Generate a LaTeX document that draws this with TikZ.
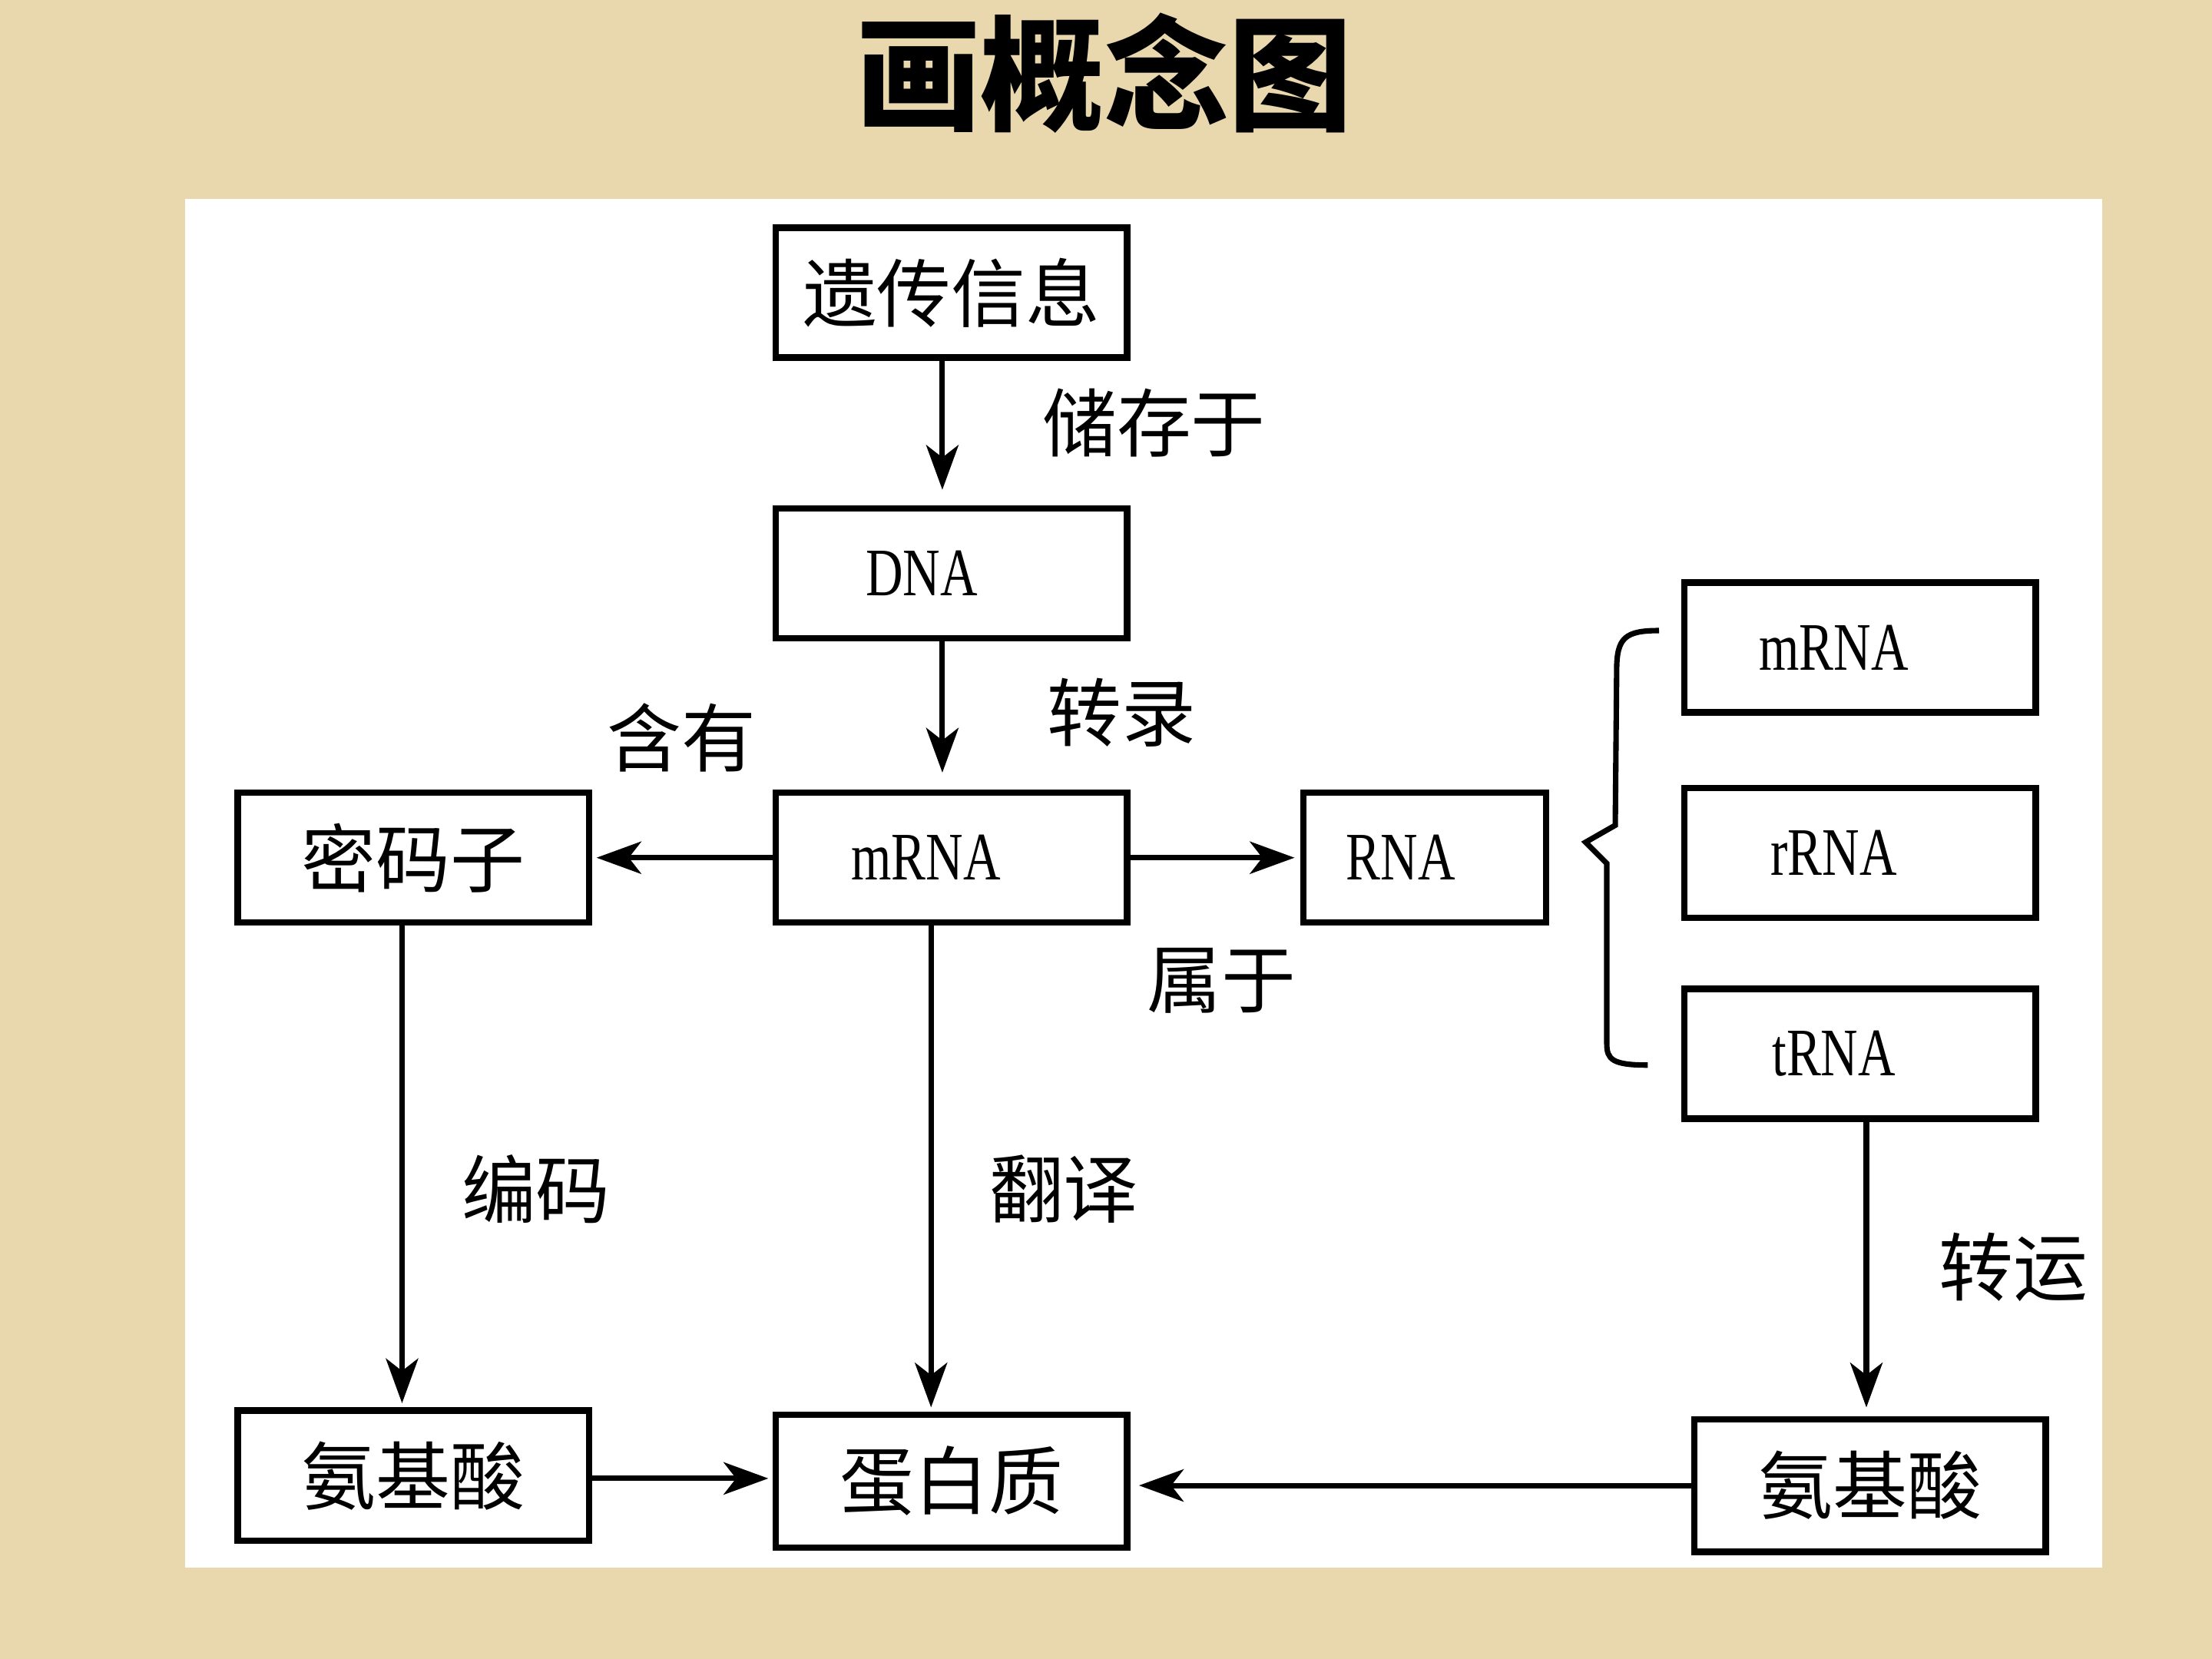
\documentclass[tikz,border=0pt]{standalone}
\usepackage{fontspec}
\setmainfont{Noto Sans CJK SC}
\newfontfamily\rnafont[FakeStretch=0.76]{Liberation Serif}
\usetikzlibrary{arrows.meta}
\definecolor{paper}{HTML}{E9D7AE}

\begin{document}
\begin{tikzpicture}[x = 0.01cm, y = -0.01cm,
  box/.style = {draw, line width = 1.3pt, fill = white, minimum width = 2.49cm,
    minimum height = 0.92cm, inner sep = 0pt, font = \fontsize{15pt}{18pt}\selectfont},
  rnabox/.style = {box, font = \fontsize{13.7pt}{16pt}\rnafont},
  lbl/.style = {font = \fontsize{15pt}{18pt}\selectfont},
  arr/.style = {-{Stealth[length = 9pt, width = 6.5pt, inset = 2.5pt]}, line width = 1.1pt}]
\useasboundingbox (0,0) rectangle (1568,1176);
\fill[paper] (0,0) rectangle (1568,1176);
\fill[white] (131,141) rectangle (1490,1111);
\node[font = \fontsize{25pt}{30pt}\bfseries] (title) at (783,52) {画概念图};

\node[box] (info) at (674.5,207.5) {遗传信息};
\node[rnabox] (dna) at (674.5,406.5) {DNA\hspace*{0.42cm}};
\node[rnabox] (mrna) at (674.5,608) {mRNA\hspace*{0.36cm}};
\node[box] (codon) at (293,608) {密码子};
\node[rnabox, minimum width = 1.72cm] (rna) at (1010,608) {RNA\hspace*{0.34cm}};
\foreach \n/\t/\y in {mr/m/459, rr/r/604.5, tr/t/747}
{
	\node[rnabox] (\n) at (1318.5,\y) {\t RNA\hspace*{0.37cm}};
}
\node[box] (aal) at (293,1046) {氨基酸};
\node[box, minimum height = 0.94cm] (prot) at (674.5,1050) {蛋白质};
\node[box, minimum height = 0.94cm] (aar) at (1325.5,1053) {氨基酸};

\node[lbl] (store) at (818,300) {储存于};
\node[lbl] (trans) at (795,505) {转录};
\node[lbl] (has) at (483,523) {含有};
\node[lbl] (belong) at (866,695) {属于};
\node[lbl] (code) at (380,843) {编码};
\node[lbl] (transl) at (754,843) {翻译};
\node[lbl] (carry) at (1427,898) {转运};

\draw[arr, shorten > = 0.11cm] ([xshift = -0.065cm]info.south) -- ([xshift = -0.065cm]dna.north);
\draw[arr, shorten > = 0.12cm] ([xshift = -0.065cm]dna.south) -- ([xshift = -0.065cm]mrna.north);
\draw[arr, shorten > = 0.03cm] (mrna.west) -- (codon.east);
\draw[arr, shorten > = 0.04cm] (mrna.east) -- (rna.west);
\draw[arr, shorten > = 0.03cm] ([xshift = -0.08cm]codon.south) -- ([xshift = -0.08cm]codon.south |- aal.north);
\draw[arr, shorten > = 0.03cm] ([xshift = -0.145cm]mrna.south) -- ([xshift = -0.145cm]prot.north);
\draw[arr, shorten > = 0.06cm] ([xshift = 0.045cm]tr.south) -- ([xshift = 0.045cm]tr.south |- aar.north);
\draw[arr, shorten > = 0.03cm] ([yshift = -0.02cm]aal.east) -- ([yshift = -0.02cm]aal.east -| prot.west);
\draw[arr, shorten > = 0.06cm] (aar.west) -- (aar.west -| prot.east);

\draw[line width = 1.1pt] (1176,447) .. controls (1152,447) and (1146,452) .. (1146,475)
  -- (1145,585) -- (1124,597) -- (1139,612) -- (1139,740)
  .. controls (1139,751) and (1143,755) .. (1168,755);
\end{tikzpicture}
\end{document}
